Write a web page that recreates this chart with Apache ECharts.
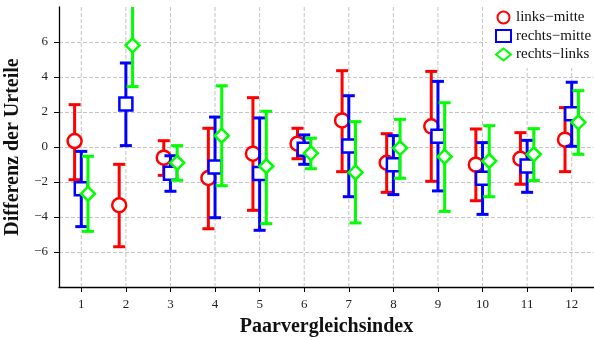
<!DOCTYPE html>
<html>
<head>
<meta charset="utf-8">
<script src="https://cdn.jsdelivr.net/npm/echarts@6/dist/echarts.min.js"></script>
<style>
  html, body { margin: 0; padding: 0; background: #fff; }
  #chart { width: 594px; height: 340px; }
</style>
</head>
<body>
<div id="chart"></div>
<script>
// Paarvergleichsindex 1..12
const indices = [1, 2, 3, 4, 5, 6, 7, 8, 9, 10, 11, 12];
const yTicks = [-6, -4, -2, 0, 2, 4, 6];

// links-mitte
const lmMean = [0.34, -3.33, -0.61, -1.77, -0.38, 0.19, 1.52, -0.90, 1.18, -1.01, -0.67, 0.42];
const lmLow  = [-1.87, -5.70, -1.62, -4.67, -3.62, -0.67, -1.41, -2.59, -1.96, -3.07, -2.13, -1.41];
const lmHigh = [2.42, -0.99, 0.36, 1.07, 2.82, 1.07, 4.36, 0.76, 4.32, 1.03, 0.82, 2.25];

// rechts-mitte
const rmMean = [-2.38, 2.46, -1.50, -1.14, -1.52, -0.13, 0.06, -1.01, 0.61, -1.79, -1.09, 1.90];
const rmLow  = [-4.55, 0.08, -2.53, -4.04, -4.76, -0.99, -2.84, -2.72, -2.51, -3.85, -2.59, 0.04];
const rmHigh = [-0.25, 4.80, -0.50, 1.71, 1.66, 0.69, 2.93, 0.65, 3.75, 0.25, 0.38, 3.70];

// rechts-links
const rlMean = [-2.67, 5.81, -0.90, 0.65, -1.10, -0.36, -1.45, -0.06, -0.55, -0.80, -0.42, 1.41];
const rlLow  = [-4.82, 3.45, -1.90, -2.21, -4.38, -1.24, -4.34, -1.79, -3.68, -2.84, -1.92, -0.42];
const rlHigh = [-0.53, 8.17, 0.08, 3.50, 2.04, 0.50, 1.45, 1.58, 2.53, 1.22, 1.05, 3.22];

const FONT = '"Liberation Serif", "DejaVu Serif", serif';
const MINUS = '\u2212';
const GRID_LINE = { color: '#c4c4c4', type: [4, 2], width: 1 };

const groups = [
  { name: 'links' + MINUS + 'mitte',  color: '#ff0000', symbol: 'circle',  size: 14, shift: -0.15, mean: lmMean, low: lmLow, high: lmHigh },
  { name: 'rechts' + MINUS + 'mitte', color: '#0000ff', symbol: 'rect',    size: 13, shift: 0,     mean: rmMean, low: rmLow, high: rmHigh },
  { name: 'rechts' + MINUS + 'links', color: '#00ff00', symbol: 'diamond', size: 14, shift: 0.15,  mean: rlMean, low: rlLow, high: rlHigh }
];

function errorBar(color) {
  return function (params, api) {
    const x = api.value(0);
    const lo = api.coord([x, api.value(1)]);
    const hi = api.coord([x, api.value(2)]);
    const half = 6;
    const style = { stroke: color, lineWidth: 3, fill: null };
    return {
      type: 'group',
      children: [
        { type: 'line', shape: { x1: lo[0], y1: lo[1], x2: hi[0], y2: hi[1] }, style: style },
        { type: 'line', shape: { x1: lo[0] - half, y1: lo[1], x2: lo[0] + half, y2: lo[1] }, style: style },
        { type: 'line', shape: { x1: hi[0] - half, y1: hi[1], x2: hi[0] + half, y2: hi[1] }, style: style }
      ]
    };
  };
}

// vertical dashed grid lines at each index, drawn under the bars
function gridLine(params, api) {
  const a = api.coord([api.value(0), -8]);
  const b = api.coord([api.value(0), 8]);
  return {
    type: 'line',
    shape: { x1: a[0], y1: a[1], x2: b[0], y2: b[1] },
    style: { stroke: GRID_LINE.color, lineWidth: 1, lineDash: GRID_LINE.type }
  };
}

const series = [{
  type: 'custom',
  name: 'grid',
  silent: true,
  z: 1,
  renderItem: gridLine,
  encode: { x: 0 },
  data: indices.map(function (v) { return [v]; })
}];

groups.forEach(function (g, k) {
  series.push({
    type: 'custom',
    name: g.name + ' bar',
    renderItem: errorBar(g.color),
    clip: true,
    z: 2 + k * 2,
    encode: { x: 0, y: [1, 2] },
    data: indices.map(function (v, i) { return [v + g.shift, g.low[i], g.high[i]]; })
  });
  series.push({
    type: 'scatter',
    name: g.name,
    symbol: g.symbol,
    symbolSize: g.size,
    z: 3 + k * 2,
    itemStyle: { color: '#fff', borderColor: g.color, borderWidth: 2.5, opacity: 1 },
    data: indices.map(function (v, i) { return [v + g.shift, g.mean[i]]; })
  });
});

const chart = echarts.init(document.getElementById('chart'));
chart.setOption({
  animation: false,
  backgroundColor: '#fff',
  grid: { left: 59, right: 0, top: 7, bottom: 53, outerBoundsMode: 'none', containLabel: false },
  legend: {
    orient: 'vertical',
    left: 487,
    top: 0,
    padding: [10, 4, 6, 8],
    itemGap: 3.5,
    itemWidth: 15,
    itemHeight: 12,
    backgroundColor: '#fff',
    z: 20,
    textStyle: { fontFamily: FONT, fontSize: 15, color: '#111' },
    data: groups.map(function (g) { return { name: g.name, icon: g.symbol }; })
  },
  xAxis: {
    type: 'value',
    min: 0.5,
    max: 12.5,
    name: 'Paarvergleichsindex',
    nameLocation: 'middle',
    nameGap: 30,
    nameTextStyle: { fontFamily: FONT, fontSize: 20, fontWeight: 'bold', color: '#111' },
    axisLine: { onZero: false, lineStyle: { color: '#000', width: 1.3 } },
    axisTick: { show: true, length: 5, customValues: indices, lineStyle: { color: '#000' } },
    axisLabel: { customValues: indices, fontFamily: FONT, fontSize: 13, color: '#222', margin: 11 },
    splitLine: { show: false }
  },
  yAxis: {
    type: 'value',
    min: -8,
    max: 8,
    interval: 2,
    name: 'Differenz der Urteile',
    nameLocation: 'middle',
    nameGap: 26,
    nameTextStyle: { fontFamily: FONT, fontSize: 20, fontWeight: 'bold', color: '#111' },
    axisLine: { show: true, lineStyle: { color: '#000', width: 1.3 } },
    axisTick: { show: true, length: 5, customValues: yTicks, lineStyle: { color: '#000' } },
    axisLabel: {
      customValues: yTicks,
      fontFamily: FONT, fontSize: 13, color: '#222', margin: 11,
      formatter: function (v) { return v < 0 ? MINUS + Math.abs(v) : String(v); }
    },
    splitLine: { show: true, lineStyle: GRID_LINE }
  },
  series: series
});
</script>
</body>
</html>
